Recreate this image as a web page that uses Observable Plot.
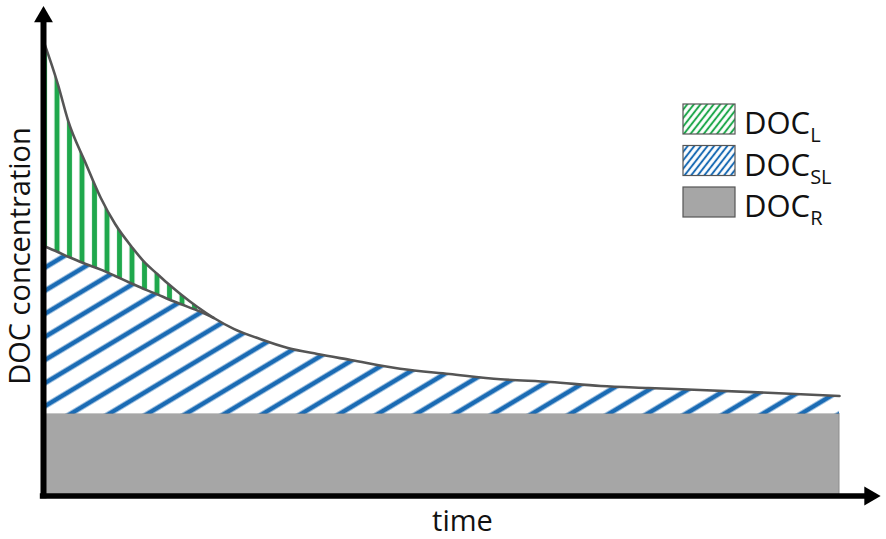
<!DOCTYPE html>
<html><head><meta charset="utf-8">
<script src="https://cdn.jsdelivr.net/npm/d3@7"></script>
<script src="https://cdn.jsdelivr.net/npm/@observablehq/plot@0.6"></script>
<style>
html,body{margin:0;padding:0;background:#fff;}
#wrap{position:relative;width:886px;height:539px;}
#wrap svg{position:absolute;left:0;top:0;}
</style></head><body>
<div id="wrap"></div>
<script>
// time (arbitrary units, 0..100) and concentration (arbitrary units)
const time      = [0, 1.8, 3.1, 5.3, 7.2, 9.0, 11.2, 12.8, 14.3, 15.7, 17.2, 19.3, 21.4, 23.9, 27.3, 30.7, 34.4, 38.6, 44.8, 51, 57.4, 63.7, 70, 76, 82.5, 91, 100];
// upper curve: DOC_L + DOC_SL + DOC_R
const docLTop   = [56.9, 51.5, 46.9, 41.6, 37.25, 34.0, 31.0, 29.1, 27.75, 26.5, 25.25, 23.65, 22.25, 20.9, 19.6, 18.5, 17.75, 17.0, 15.9, 15.25, 14.6, 14.25, 13.75, 13.5, 13.25, 12.9, 12.5];
// lower curve: DOC_SL + DOC_R
const docSLTop  = [31.25, 30.5, 29.9, 29.0, 28.3, 27.5, 26.5, 25.8, 25.2, 24.6, 24.0, 23.2, 22.25, 20.9, 19.6, 18.5, 17.75, 17.0, 15.9, 15.25, 14.6, 14.25, 13.75, 13.5, 13.25, 12.9, 12.5];
const docR = 10.25;           // refractory pool (constant)
const mergeTime = 21.4;
const legendMain = ["DOC", "DOC", "DOC"];
const legendSub  = ["L", "SL", "R"];
const xLabel = "time";
const yLabel = "DOC concentration";
const axisEnds = {x: 103.8, y: 59.9};

const green = "#1fa84c", blue = "#1a6bb4", gray = "#a6a6a6", curveColor = "#555";

const rows = time.map((t, i) => ({t, l: docLTop[i], sl: docSLTop[i]}));
const rowsBefore = rows.filter(d => d.t <= mergeTime);

const plot = Plot.plot({
  width: 886, height: 539,
  marginLeft: 43, marginRight: 47, marginTop: 15.5, marginBottom: 43.5,
  x: {domain: [0, 100], axis: null},
  y: {domain: [0, 60], axis: null},
  style: {overflow: "visible", background: "#fff"},
  marks: [
    Plot.rect([{x1: 0, x2: 100, y1: 0, y2: docR}], {x1: "x1", x2: "x2", y1: "y1", y2: "y2", fill: gray, stroke: "#8c8c8c", strokeWidth: 1}),
    Plot.areaY(rows, {x: "t", y1: docR, y2: "sl", fill: "url(#blueHatch)", curve: "monotone-x"}),
    Plot.areaY(rowsBefore, {x: "t", y1: "sl", y2: "l", fill: "url(#greenHatch)", curve: "monotone-x"}),
    Plot.line(rowsBefore, {x: "t", y: "sl", stroke: curveColor, strokeWidth: 2.6, curve: "monotone-x"}),
    Plot.line(rows, {x: "t", y: "l", stroke: curveColor, strokeWidth: 2.6, curve: "monotone-x"}),
    Plot.ruleX([0], {y1: -0.35, y2: axisEnds.y, stroke: "black", strokeWidth: 6}),
    Plot.ruleY([0], {x1: -0.4, x2: axisEnds.x, stroke: "black", strokeWidth: 5.5}),
    Plot.dot([{x: 0, y: axisEnds.y}], {x: "x", y: "y", symbol: "triangle", r: 7, fill: "black", stroke: null}),
    Plot.dot([{x: axisEnds.x, y: 0}], {x: "x", y: "y", symbol: "triangle", r: 7, fill: "black", stroke: null, rotate: 90}),
    Plot.text([yLabel], {frameAnchor: "left", textAnchor: "middle", lineAnchor: "middle", rotate: -90, dx: -22.3, dy: 0, fontSize: 29, fontFamily: "Open Sans", fill: "#111"}),
    Plot.text([xLabel], {frameAnchor: "bottom", textAnchor: "middle", lineAnchor: "middle", dx: 21, dy: 25.5, fontSize: 29, fontFamily: "Open Sans", fill: "#111"})
  ]
});

// hatch patterns
const svgSel = d3.select(plot);
const defs = svgSel.insert("defs", ":first-child");
const gp = defs.append("pattern").attr("id", "greenHatch").attr("patternUnits", "userSpaceOnUse")
  .attr("width", 12.5).attr("height", 10).attr("patternTransform", "translate(50.75,0)");
gp.append("rect").attr("x", 0).attr("y", 0).attr("width", 12.5).attr("height", 10).attr("fill", "#fff");
gp.append("rect").attr("x", 3.75).attr("y", 0).attr("width", 5).attr("height", 10).attr("fill", green);
const H = 19.8;
const bp = defs.append("pattern").attr("id", "blueHatch").attr("patternUnits", "userSpaceOnUse")
  .attr("width", 40).attr("height", H).attr("patternTransform", `translate(72,413) rotate(-31) translate(0,${-H/2})`);
bp.append("rect").attr("x", 0).attr("y", 0).attr("width", 40).attr("height", H).attr("fill", "#fff");
bp.append("rect").attr("x", 0).attr("y", H/2 - 2.4).attr("width", 40).attr("height", 4.8).attr("fill", blue);

document.getElementById("wrap").appendChild(plot);

// legend overlay
const lg = d3.select("#wrap").append("svg").attr("width", 886).attr("height", 539).style("pointer-events", "none");
const ldefs = lg.append("defs");
[["lgGreen", green], ["lgBlue", blue]].forEach(([id, c]) => {
  const p = ldefs.append("pattern").attr("id", id).attr("patternUnits", "userSpaceOnUse")
    .attr("width", 10).attr("height", 5.2).attr("patternTransform", "rotate(-52)");
  p.append("rect").attr("width", 10).attr("height", 5.2).attr("fill", "#fff");
  p.append("rect").attr("y", 1.6).attr("width", 10).attr("height", 2).attr("fill", c);
});
const swatchFill = ["url(#lgGreen)", "url(#lgBlue)", gray];
legendMain.forEach((m, i) => {
  const y0 = 104 + i * 41.5;
  lg.append("rect").attr("x", 683).attr("y", y0).attr("width", 52).attr("height", 30)
    .attr("fill", swatchFill[i]).attr("stroke", "#555").attr("stroke-width", 1.2);
  const t = lg.append("text").attr("x", 744).attr("y", y0 + 30).attr("font-family", "Open Sans")
    .attr("font-size", 31).attr("fill", "#111");
  t.append("tspan").text(m);
  t.append("tspan").attr("dy", 8).attr("font-size", 20).text(legendSub[i]);
});
</script>
</body></html>
